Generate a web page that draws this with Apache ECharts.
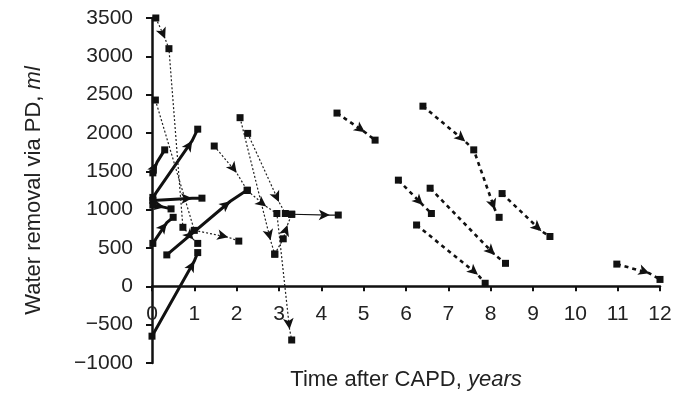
<!DOCTYPE html>
<html>
<head>
<meta charset="utf-8">
<script src="https://cdn.jsdelivr.net/npm/echarts@6/dist/echarts.min.js"></script>
<style>
html, body { margin: 0; padding: 0; background: #fff; }
#chart { width: 690px; height: 406px; }
</style>
</head>
<body>
<div id="chart"></div>
<script>
// points are [years, ml] ; a third value 1 marks the arrow head of a segment
var xMin = 0, xMax = 12, xStep = 1;
var yMin = -1000, yMax = 3500, yStep = 500;

// thick solid lines
var solid1 = [[0.02, 1160], [0.95, 1900, 1], [1.08, 2050]];
var solid2 = [[0.02, 1480], [0.12, 1620, 1], [0.3, 1780]];
var solid3 = [[0.02, 1120], [0.95, 1150, 1], [1.18, 1150]];
var solid4 = [[0.02, 560], [0.35, 830, 1], [0.5, 900]];
var solid5 = [[0.35, 410], [1.85, 1110, 1], [2.25, 1255]];
var solid6 = [[0.0, -650], [1.0, 330, 1], [1.08, 440]];
var solid7 = [[0.02, 1060], [0.3, 1030, 1], [0.45, 1010]];

// thin dotted lines
var dot1 = [[0.09, 3500], [0.31, 3230, 1], [0.4, 3100], [0.73, 770], [0.98, 610, 1], [1.08, 560]];
var dot2 = [[0.08, 2430], [1.0, 730], [1.8, 640, 1], [2.05, 590]];
var dot3 = [[1.47, 1830], [2.0, 1480, 1], [2.25, 1250], [2.7, 1040, 1], [2.95, 950], [3.25, -560, 1], [3.3, -700]];
var dot4 = [[2.08, 2200], [2.8, 600, 1], [2.9, 420]];
var dot5 = [[2.26, 1995], [3.0, 1100, 1], [3.15, 950]];
var dot6 = [[2.9, 420], [3.1, 620], [3.2, 800, 1], [3.3, 940]];

// thin solid line
var thin1 = [[3.3, 940], [4.2, 930, 1], [4.4, 930]];

// thick dashed lines
var dash1 = [[4.37, 2260], [5.03, 2010, 1], [5.27, 1907]];
var dash2 = [[6.4, 2350], [7.4, 1890, 1], [7.6, 1780], [8.1, 1000, 1], [8.2, 900]];
var dash3 = [[8.27, 1210], [9.2, 720, 1], [9.4, 650]];
var dash4 = [[5.82, 1385], [6.4, 1060, 1], [6.6, 950]];
var dash5 = [[6.57, 1280], [8.1, 410, 1], [8.35, 300]];
var dash6 = [[6.25, 800], [7.7, 150, 1], [7.87, 40]];
var dash7 = [[10.98, 290], [11.75, 170, 1], [12.0, 90]];

var solidLines = [solid1, solid2, solid3, solid4, solid5, solid6, solid7];
var dottedLines = [dot1, dot2, dot3, dot4, dot5, dot6];
var thinLines = [thin1];
var dashedLines = [dash1, dash2, dash3, dash4, dash5, dash6, dash7];

var ink = '#111';

function makeSeries(points, lineStyle, squareSize) {
    return {
        type: 'line',
        silent: true,
        clip: false,
        animation: false,
        emphasis: { disabled: true },
        lineStyle: lineStyle,
        itemStyle: { color: ink },
        data: points.map(function(p) {
            return {
                value: [p[0], p[1]],
                symbol: p[2] ? 'arrow' : 'rect',
                symbolSize: p[2] ? [8, 11] : squareSize
            };
        })
    };
}

var allPoints = [];
var series = [];

solidLines.forEach(function(pts) {
    allPoints.push(pts);
    series.push(makeSeries(pts, { color: ink, width: 3 }, 7));
});
dottedLines.forEach(function(pts) {
    allPoints.push(pts);
    series.push(makeSeries(pts, { color: '#222', width: 1.2, type: [2, 2] }, 7));
});
thinLines.forEach(function(pts) {
    allPoints.push(pts);
    series.push(makeSeries(pts, { color: ink, width: 1.2 }, 7));
});
dashedLines.forEach(function(pts) {
    allPoints.push(pts);
    series.push(makeSeries(pts, { color: ink, width: 2.6, type: [4, 4] }, 7));
});

var chart = echarts.init(document.getElementById('chart'));

var fontName = 'Liberation Sans';

var option = {
    animation: false,
    grid: { left: 152, right: 30, top: 18, bottom: 43, containLabel: false, outerBoundsMode: 'none' },
    xAxis: {
        type: 'value',
        min: xMin, max: xMax, interval: xStep,
        name: 'Time after CAPD, {i|years}',
        nameLocation: 'middle',
        nameGap: 83,
        nameTextStyle: {
            fontFamily: fontName, fontSize: 22, color: '#222',
            rich: { i: { fontStyle: 'italic', fontFamily: fontName, fontSize: 22, color: '#222' } }
        },
        offset: 0,
        axisLine: { onZero: false, lineStyle: { color: ink, width: 2.5 } },
        axisTick: { length: 5, lineStyle: { color: ink, width: 2 } },
        axisLabel: { margin: 17, fontFamily: fontName, fontSize: 21, color: '#222' },
        splitLine: { show: false }
    },
    yAxis: {
        type: 'value',
        min: yMin, max: yMax, interval: yStep,
        name: 'Water removal via PD, {i|ml}',
        nameLocation: 'middle',
        nameGap: 107,
        nameTextStyle: {
            fontFamily: fontName, fontSize: 22, color: '#222',
            rich: { i: { fontStyle: 'italic', fontFamily: fontName, fontSize: 22, color: '#222' } }
        },
        axisLine: { show: true, lineStyle: { color: ink, width: 2.5 } },
        axisTick: { show: true, length: 6, lineStyle: { color: ink, width: 2 } },
        axisLabel: {
            margin: 19, fontFamily: fontName, fontSize: 21, color: '#222',
            formatter: function(v) { return String(v).replace('-', '\u2212'); }
        },
        splitLine: { show: false }
    },
    series: series
};

chart.setOption(option);

// move the x axis up to the zero line of the y scale
var pZero = chart.convertToPixel({ yAxisIndex: 0 }, 0);
var pMin = chart.convertToPixel({ yAxisIndex: 0 }, yMin);
option.xAxis.offset = pZero - pMin;

// turn each arrow head along its segment, using the chart's own pixel scale
allPoints.forEach(function(pts, k) {
    var data = option.series[k].data;
    for (var j = 0; j < pts.length; j++) {
        if (!pts[j][2]) continue;
        var a = pts[j - 1] || pts[j];
        var b = pts[j + 1] || pts[j];
        var pa = chart.convertToPixel({ gridIndex: 0 }, [a[0], a[1]]);
        var pb = chart.convertToPixel({ gridIndex: 0 }, [b[0], b[1]]);
        var ang = Math.atan2(pb[1] - pa[1], pb[0] - pa[0]);
        data[j].symbolRotate = -90 - ang * 180 / Math.PI;
    }
});

chart.setOption(option);
</script>
</body>
</html>
